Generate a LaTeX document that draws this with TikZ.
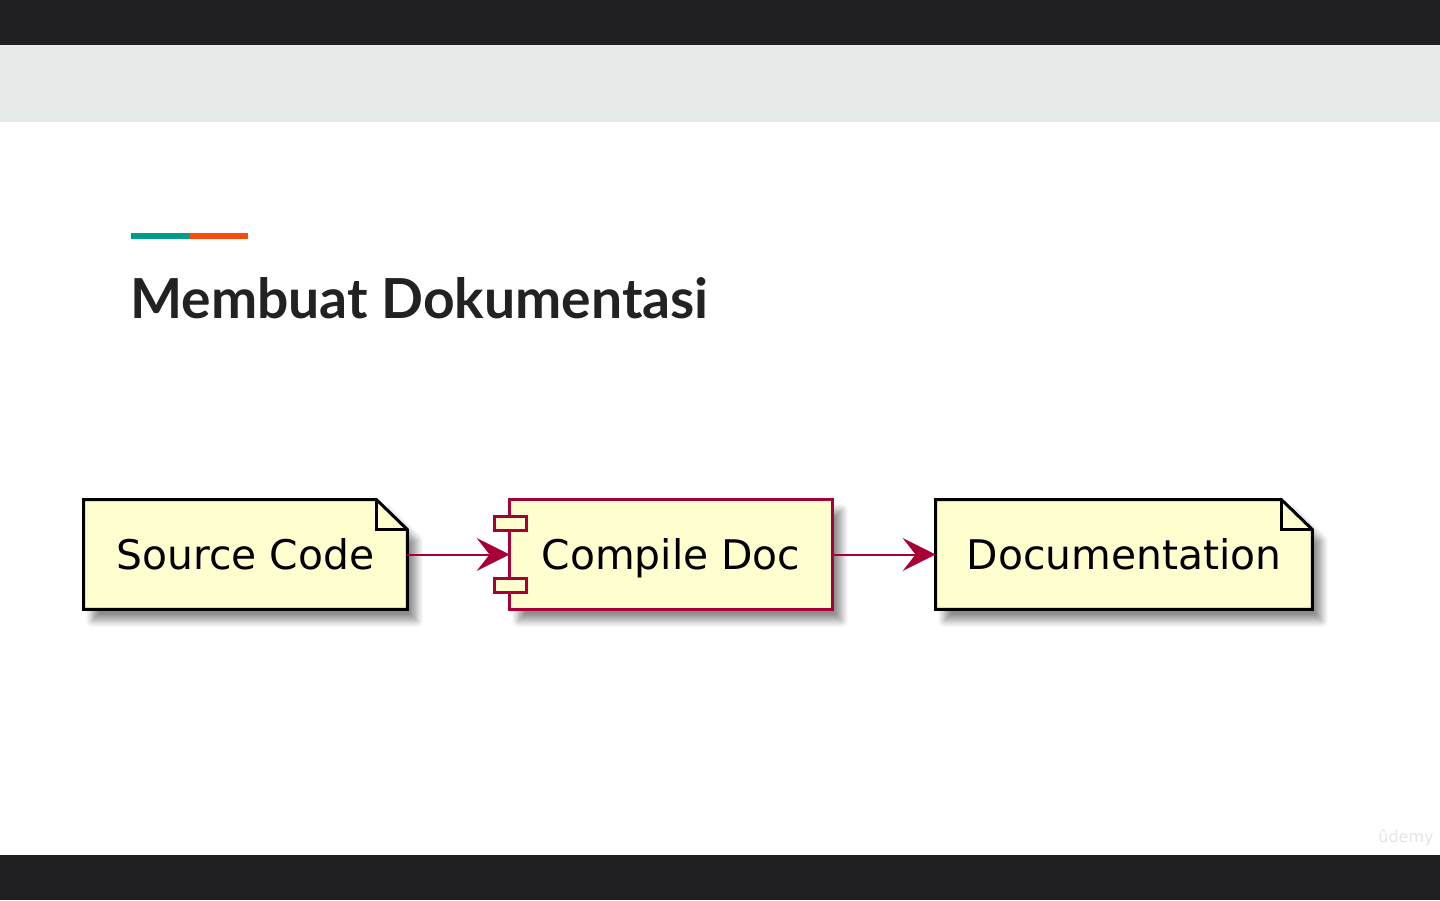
\documentclass[tikz,border=0pt]{standalone}
\usepackage{fontspec}
\setmainfont{DejaVu Sans}
\newfontfamily\titlefont{Lato}
\usetikzlibrary{arrows.meta,shadows.blur}

\begin{document}
\begin{tikzpicture}[x=0.5pt,y=-0.5pt,
  box/.style={minimum width=#1, minimum height=54.5pt, inner sep=0pt},
  softshadow/.style={blur shadow={shadow xshift=4.5pt, shadow yshift=-5.5pt,
    shadow opacity=45, shadow blur radius=3.5pt, shadow blur steps=8}},
  noteline/.style={draw=black, line width=1.5pt, fill=PlantFill, line join=miter, softshadow},
  compline/.style={draw=PlantRed, line width=1.5pt, fill=PlantFill},
  boxlabel/.style={anchor=base, inner sep=0pt, font=\fontsize{20.4}{24}\selectfont},
  link/.style={draw=PlantRed, line width=1pt, -{Stealth[length=16.5pt,width=16.5pt,inset=6.5pt]}}]
\definecolor{BarDark}{HTML}{1F1F21};
\definecolor{BandGray}{HTML}{E6EBEA};
\definecolor{AccentTeal}{HTML}{009E8A};
\definecolor{AccentOrange}{HTML}{FC4A0A};
\definecolor{TitleInk}{HTML}{222222};
\definecolor{PlantRed}{HTML}{A80036};
\definecolor{PlantFill}{HTML}{FEFECE};

\useasboundingbox (0,0) rectangle (1440,900);

% slide background
\fill[BarDark] (0,0) rectangle (1440,45);
\fill[BandGray] (0,45) rectangle (1440,122);
\fill[BarDark] (0,855) rectangle (1440,900);

% heading
\fill[AccentTeal] (131,233) rectangle (190,239);
\fill[AccentOrange] (190,233) rectangle (248,239);
\node[anchor=base west, inner sep=0pt, text=TitleInk,
  font=\titlefont\bfseries\fontsize{27.6}{31}\selectfont] (title) at (130,318) {Membuat Dokumentasi};

% nodes
\node[box=161.5pt] (src) at (245.5,554.5) {};
\node[box=161pt] (cmp) at (671,554.5) {};
\node[box=188pt] (doc) at (1124,554.5) {};

% note outlines
\foreach \n in {src,doc} {
  \draw[noteline] (\n.north west) -- ([xshift=-15.5pt]\n.north east)
    -- ([yshift=-15pt]\n.north east) -- (\n.south east) -- (\n.south west) -- cycle;
  \draw[line width=1.5pt] ([xshift=-15.5pt]\n.north east) |- ([yshift=-15pt]\n.north east);
}

% component
\draw[compline, softshadow] (cmp.north west) rectangle (cmp.south east);
\foreach \s in {1,-1}
  \draw[compline] ([xshift=-7.5pt,yshift=\s*12pt]cmp.west) rectangle ([xshift=8.5pt,yshift=\s*19pt]cmp.west);

% labels
\node[boxlabel] (srctext) at ([yshift=-7.5pt]src.center) {Source Code};
\node[boxlabel] (cmptext) at ([yshift=-7.5pt]cmp.center) {Compile Doc};
\node[boxlabel] (doctext) at ([yshift=-7.5pt]doc.center) {Documentation};

% arrows
\draw[link] (src.east) -- (cmp.west);
\draw[link] (cmp.east) -- (doc.west);

% watermark
\node[text=black!10, font=\fontsize{8}{8}\selectfont] (mark) at (1406,838) {ûdemy};
\end{tikzpicture}
\end{document}
